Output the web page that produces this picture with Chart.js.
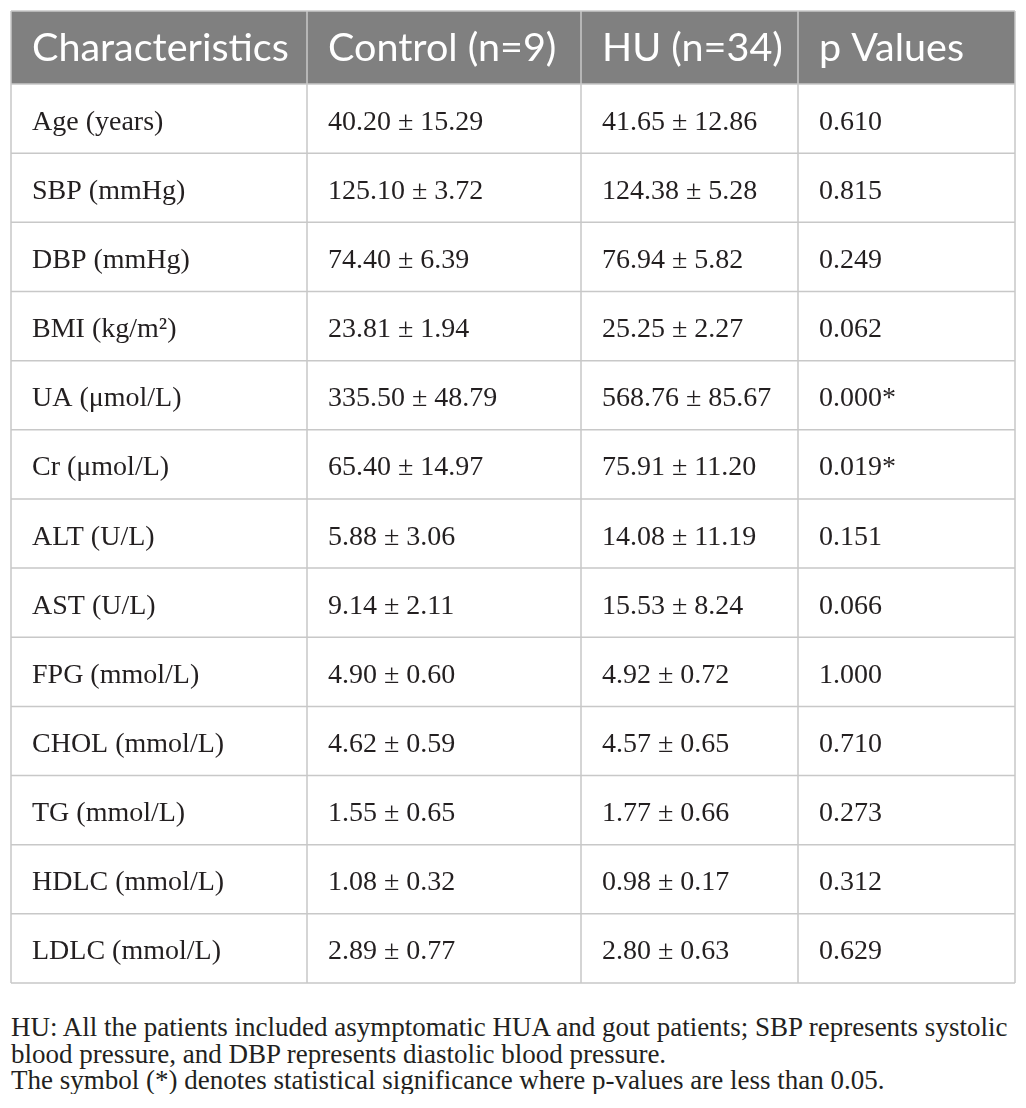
<!DOCTYPE html>
<html>
<head>
<meta charset="utf-8">
<script src="https://cdn.jsdelivr.net/npm/chart.js@4.4.0/dist/chart.umd.min.js"></script>
<style>
  body { margin: 0; background: #fff; }
  canvas { display: block; }
  #note {
    margin: 24px 0 0 11px;
    font-family: "Liberation Serif", serif;
    font-size: 27px;
    line-height: 26.5px;
    color: #231f20;
    white-space: nowrap;
  }
</style>
</head>
<body>
<canvas id="tbl" width="1026" height="990"></canvas>
<div id="note">HU: All the patients included asymptomatic HUA and gout patients; SBP represents systolic<br>blood pressure, and DBP represents diastolic blood pressure.<br>The symbol (*) denotes statistical significance where p-values are less than 0.05.</div>
<script>
// table content
const headers = ['Characteristics', 'Control (n=9)', 'HU (n=34)', 'p Values'];
const characteristics = ['Age (years)', 'SBP (mmHg)', 'DBP (mmHg)', 'BMI (kg/m²)', 'UA (μmol/L)',
  'Cr (μmol/L)', 'ALT (U/L)', 'AST (U/L)', 'FPG (mmol/L)', 'CHOL (mmol/L)', 'TG (mmol/L)',
  'HDLC (mmol/L)', 'LDLC (mmol/L)'];
const controlMean = [40.20, 125.10, 74.40, 23.81, 335.50, 65.40, 5.88, 9.14, 4.90, 4.62, 1.55, 1.08, 2.89];
const controlSd = [15.29, 3.72, 6.39, 1.94, 48.79, 14.97, 3.06, 2.11, 0.60, 0.59, 0.65, 0.32, 0.77];
const huMean = [41.65, 124.38, 76.94, 25.25, 568.76, 75.91, 14.08, 15.53, 4.92, 4.57, 1.77, 0.98, 2.80];
const huSd = [12.86, 5.28, 5.82, 2.27, 85.67, 11.20, 11.19, 8.24, 0.72, 0.65, 0.66, 0.17, 0.63];
const pValues = [0.610, 0.815, 0.249, 0.062, 0.000, 0.019, 0.151, 0.066, 1.000, 0.710, 0.273, 0.312, 0.629];

// layout: column edges on the x scale, header height in row units on the y scale
const colEdges = [0, 296, 570, 787, 1004];
const headRows = 1.056;
const pad = 21;

function meanSd(m, s) {
  return m.toFixed(2) + ' ± ' + s.toFixed(2);
}

const cells = characteristics.map((c, i) => [
  c,
  meanSd(controlMean[i], controlSd[i]),
  meanSd(huMean[i], huSd[i]),
  pValues[i].toFixed(3) + (pValues[i] < 0.05 ? '*' : '')
]);

const tablePlugin = {
  id: 'tablePlugin',
  beforeDraw(chart) {
    const { ctx, scales: { x, y } } = chart;
    const left = x.getPixelForValue(colEdges[0]);
    const right = x.getPixelForValue(colEdges[colEdges.length - 1]);
    const top = y.getPixelForValue(0);
    const headBottom = y.getPixelForValue(headRows);
    const bottom = y.getPixelForValue(headRows + cells.length);

    ctx.save();
    ctx.fillStyle = '#808080';
    ctx.fillRect(left, top, right - left, headBottom - top);

    // grid
    ctx.strokeStyle = '#c8c8c8';
    ctx.lineWidth = 1.5;
    ctx.beginPath();
    for (let i = 0; i <= cells.length; i++) {
      const py = y.getPixelForValue(headRows + i);
      ctx.moveTo(left, py);
      ctx.lineTo(right, py);
    }
    ctx.moveTo(left, top);
    ctx.lineTo(right, top);
    colEdges.forEach(e => {
      const px = x.getPixelForValue(e);
      ctx.moveTo(px, top);
      ctx.lineTo(px, bottom);
    });
    ctx.stroke();

    // header text
    ctx.fillStyle = '#ffffff';
    ctx.font = '39.5px Lato';
    ctx.textBaseline = 'alphabetic';
    const hy = (top + headBottom) / 2 + 13.5;
    headers.forEach((h, j) => {
      ctx.fillText(h, x.getPixelForValue(colEdges[j]) + pad, hy);
    });

    // body text
    ctx.fillStyle = '#231f20';
    ctx.font = '28px "Liberation Serif"';
    cells.forEach((row, i) => {
      const cy = y.getPixelForValue(headRows + i + 0.5) + 11;
      row.forEach((t, j) => {
        ctx.fillText(t, x.getPixelForValue(colEdges[j]) + pad, cy);
      });
    });
    ctx.restore();
  }
};

new Chart(document.getElementById('tbl'), {
  type: 'scatter',
  data: { datasets: [{ data: [] }] },
  options: {
    responsive: false,
    animation: false,
    layout: { padding: { left: 11, right: 11, top: 11, bottom: 7 } },
    plugins: { legend: { display: false }, tooltip: { enabled: false } },
    scales: {
      x: { type: 'linear', display: false, min: colEdges[0], max: colEdges[colEdges.length - 1] },
      y: { type: 'linear', display: false, min: 0, max: headRows + characteristics.length, reverse: true }
    }
  },
  plugins: [tablePlugin]
});
</script>
</body>
</html>
